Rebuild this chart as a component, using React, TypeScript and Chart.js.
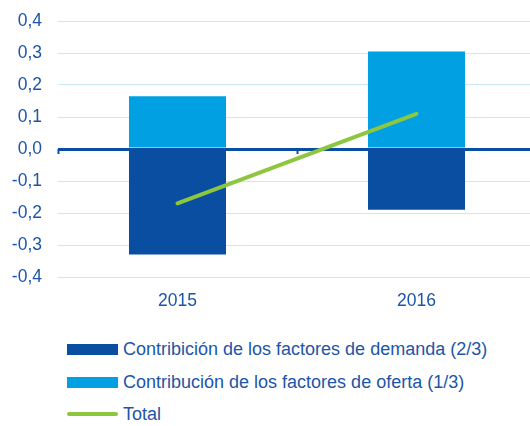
import React, { useEffect, useRef } from "react";
import { Chart, registerables } from "chart.js";

Chart.register(...registerables);

const categories = ["2015", "2016"];
const demandValues = [-0.33, -0.19];
const supplyValues = [0.165, 0.305];
const totalValues = [-0.17, 0.11];
const seriesNames = [
  "Contribición de los factores de demanda (2/3)",
  "Contribución de los factores de oferta (1/3)",
  "Total",
];

const DARK = "#0A4EA2";
const LIGHT = "#00A0E3";
const GREEN = "#8DC63F";
const TEXT = "#1D55A8";
const GRID = "#C8E8F6";
const FONT = "'Liberation Sans', Arial, sans-serif";

const axisTicks = {
  id: "axisTicks",
  beforeDatasetsDraw(chart: any) {
    const x = chart.scales.x;
    const y = chart.scales.y;
    const y0 = y.getPixelForValue(0);
    const ctx = chart.ctx;
    const n = categories.length;
    const step = (x.right - x.left) / n;
    ctx.save();
    ctx.strokeStyle = DARK;
    ctx.lineWidth = 2;
    for (let i = 0; i <= n; i++) {
      const px = Math.round(x.left + step * i) + 0.5;
      ctx.beginPath();
      ctx.moveTo(px, y0);
      ctx.lineTo(px, y0 + 5);
      ctx.stroke();
    }
    ctx.restore();
  },
};

export default function App() {
  const ref = useRef<HTMLCanvasElement | null>(null);

  useEffect(() => {
    document.body.style.margin = "0";
    document.body.style.overflow = "hidden";
    const canvas = ref.current!;
    const chart = new Chart(canvas, {
      type: "bar",
      data: {
        labels: categories,
        datasets: [
          {
            type: "line",
            label: seriesNames[2],
            data: totalValues,
            borderColor: GREEN,
            backgroundColor: GREEN,
            borderWidth: 4,
            pointRadius: 0,
            borderCapStyle: "round",
            order: 0,
            stack: "line",
          } as any,
          {
            label: seriesNames[0],
            data: demandValues,
            backgroundColor: DARK,
            barPercentage: 0.406,
            categoryPercentage: 1,
            order: 1,
            stack: "bars",
          },
          {
            label: seriesNames[1],
            data: supplyValues,
            backgroundColor: LIGHT,
            barPercentage: 0.406,
            categoryPercentage: 1,
            order: 1,
            stack: "bars",
          },
        ],
      },
      options: {
        responsive: false,
        animation: false,
        devicePixelRatio: 1,
        layout: { padding: { top: 21, right: 4, left: 0, bottom: 0 } },
        plugins: {
          legend: { display: false },
          tooltip: { enabled: false },
        },
        scales: {
          x: {
            stacked: true,
            grid: { display: false },
            border: { display: false },
            ticks: {
              color: TEXT,
              font: { family: FONT, size: 17.5 },
              padding: 6,
            },
            afterFit: (s: any) => {
              s.height = 33;
            },
          },
          y: {
            stacked: true,
            min: -0.4,
            max: 0.4,
            border: { display: false },
            grid: {
              drawTicks: false,
              color: (c: any) =>
                Math.abs(c.tick.value) < 1e-9 ? DARK : GRID,
              lineWidth: (c: any) =>
                Math.abs(c.tick.value) < 1e-9 ? 3 : 1,
            },
            ticks: {
              stepSize: 0.1,
              color: TEXT,
              font: { family: FONT, size: 17.5 },
              padding: 16,
              callback: (v: any) =>
                Math.abs(v) < 1e-9 ? "0,0" : Number(v).toFixed(1).replace(".", ","),
            },
            afterFit: (s: any) => {
              s.width = 58;
              s.paddingTop = 10;
              s.paddingBottom = 10;
            },
          },
        },
      },
      plugins: [axisTicks],
    });
    return () => chart.destroy();
  }, []);

  const rows = [
    { name: seriesNames[0], color: DARK, h: 11 },
    { name: seriesNames[1], color: LIGHT, h: 11 },
    { name: seriesNames[2], color: GREEN, h: 4 },
  ];
  const centers = [349, 382, 414];

  return (
    <div style={{ position: "relative", width: 530, height: 426, overflow: "hidden", background: "#fff" }}>
      <canvas ref={ref} width={540} height={310} style={{ position: "absolute", left: 0, top: 0, width: 540, height: 310 }} />
      {rows.map((r, i) => (
        <div
          key={i}
          style={{
            position: "absolute",
            left: 67,
            top: centers[i] - 11,
            height: 22,
            display: "flex",
            alignItems: "center",
            fontFamily: FONT,
            fontSize: 18,
            color: TEXT,
            whiteSpace: "nowrap",
          }}
        >
          <div style={{ width: 51, height: r.h, background: r.color, borderRadius: r.h < 6 ? 2 : 0, marginRight: 5 }} />
          <span>{r.name}</span>
        </div>
      ))}
    </div>
  );
}
